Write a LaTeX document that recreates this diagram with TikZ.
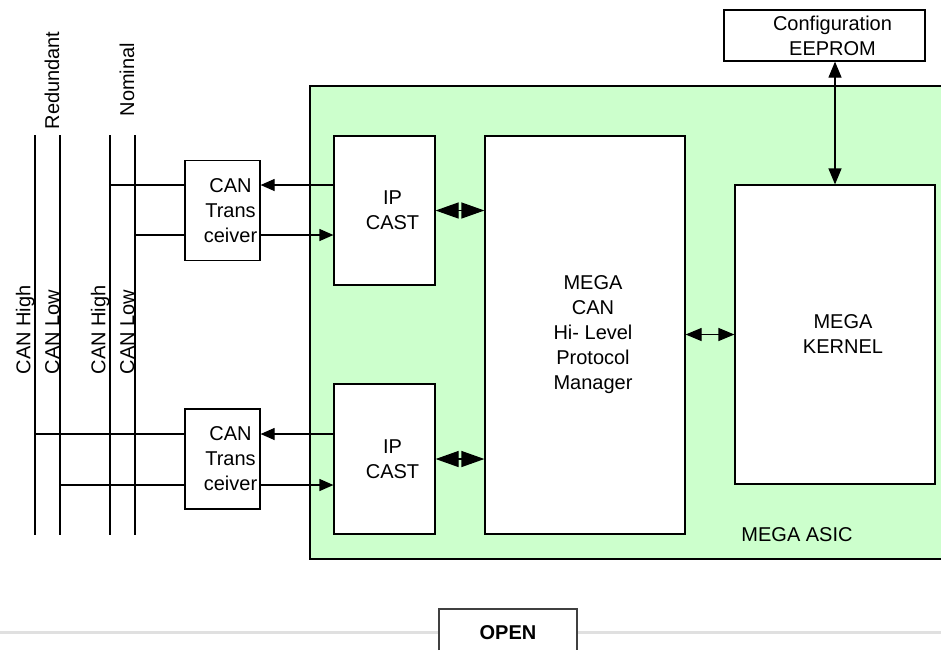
\documentclass[tikz,border=0pt]{standalone}
\usepackage{fontspec}
\setmainfont{Liberation Sans}
\usetikzlibrary{arrows.meta}
\definecolor{asicgreen}{HTML}{CCFFCC}

\begin{document}
\begin{tikzpicture}[x=0.5pt,y=-0.5pt,
    font=\fontsize{10}{12.5}\selectfont,
    line width=0.6pt,
    box/.style={draw, fill=white, inner sep=0pt},
    boxtext/.style={align=center, xshift=4pt},
    buslabel/.style={rotate=90, anchor=south west, inner sep=0pt},
    sig/.style={-{Triangle[length=7pt,width=6pt]}},
    wide/.style={{Triangle[length=11.5pt,width=8pt]}-{Triangle[length=11.5pt,width=8pt]}},
    narrow/.style={{Triangle[length=8pt,width=6.5pt]}-{Triangle[length=8pt,width=6.5pt]}}]

    \useasboundingbox (0,0) rectangle (941,650);

    % ASIC
    \fill[asicgreen] (310,86) rectangle (941,559);
    \draw (941,86) -- (310,86) -- (310,559) -- (941,559);
    \node (asicLbl) at (797,535) {MEGA ASIC};

    % Busleitungen
    \foreach \x in {35,60,110,135}
        \draw (\x,135) -- (\x,535);
    \node[buslabel] (redLbl) at (60,130) {Redundant};
    \node[buslabel] (nomLbl) at (135,117) {Nominal};
    \foreach \x/\t in {35/High,60/Low,110/High,135/Low}
        \node[buslabel] (lbl\x) at (\x,375) {CAN \t};

    % Transceiver
    \node[box, minimum width=37.5pt, minimum height=50pt,
        label={[boxtext]center:CAN\\Trans\\ceiver}] (trxA) at (222.5,210.5) {};
    \node[box, minimum width=37.5pt, minimum height=50pt,
        label={[boxtext]center:CAN\\Trans\\ceiver}] (trxB) at (222.5,459) {};

    % IP CAST
    \node[box, minimum width=50.5pt, minimum height=74.5pt,
        label={[boxtext]center:IP\\CAST}] (castA) at (384.5,210.5) {};
    \node[box, minimum width=50.5pt, minimum height=75pt,
        label={[boxtext]center:IP\\CAST}] (castB) at (384.5,459) {};

    % Protokoll-Manager
    \node[box, minimum width=100pt, minimum height=199pt,
        label={[boxtext]center:MEGA\\CAN\\Hi- Level\\Protocol\\Manager}] (mega) at (585,335) {};

    % Kernel
    \node[box, minimum width=100pt, minimum height=149.5pt,
        label={[boxtext]center:MEGA\\KERNEL}] (kernel) at (835,334.5) {};

    % EEPROM
    \node[box, minimum width=100.5pt, minimum height=25.5pt,
        label={[boxtext]center:Configuration\\EEPROM}] (eeprom) at (824.5,35.5) {};

    % Anschluesse
    \coordinate (tapAh) at (110,185);
    \coordinate (tapAl) at (135,235);
    \coordinate (tapBh) at (35,434);
    \coordinate (tapBl) at (60,485);
    \draw (tapAh) -- (tapAh -| trxA.west);
    \draw (tapAl) -- (tapAl -| trxA.west);
    \draw (tapBh) -- (tapBh -| trxB.west);
    \draw (tapBl) -- (tapBl -| trxB.west);
    \draw[sig] (tapAh -| castA.west) -- (tapAh -| trxA.east);
    \draw[sig] (tapAl -| trxA.east) -- (tapAl -| castA.west);
    \draw[sig] (tapBh -| castB.west) -- (tapBh -| trxB.east);
    \draw[sig] (tapBl -| trxB.east) -- (tapBl -| castB.west);

    % Interne Verbindungen
    \draw[wide] (castA.east) -- (castA.east -| mega.west);
    \draw[wide] (castB.east) -- (castB.east -| mega.west);
    \draw[narrow] (mega.east |- kernel.west) -- (kernel.west);
    \draw[narrow] (kernel.north |- eeprom.south) -- (kernel.north);

    % Seitenrand
    \draw[black!12, line width=1.5pt] (0,632) -- (941,632);
    \filldraw[fill=white, draw=black!75, line width=1pt] (439,650) -- (439,609) -- (577,609) -- (577,650);
    \node[font=\fontsize{10}{12}\selectfont\bfseries] (openLbl) at (508,633) {OPEN};
\end{tikzpicture}
\end{document}
